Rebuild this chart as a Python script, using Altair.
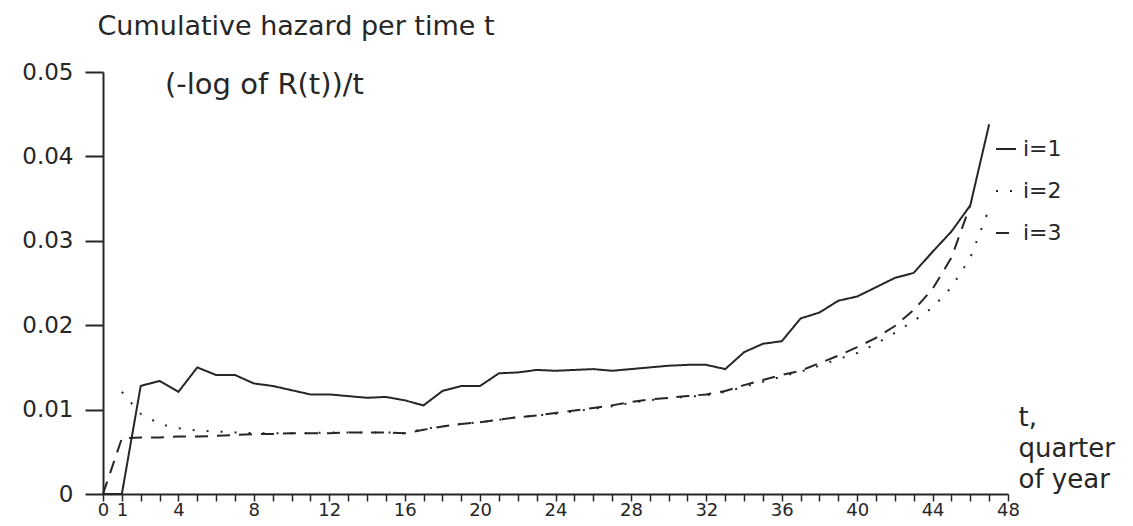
import altair as alt
import pandas as pd

# ---- data ----
t1 = list(range(0, 48))
h1 = [0.0, 0.0, 0.0128, 0.0134, 0.0121, 0.0150, 0.0141, 0.0141, 0.0131, 0.0128,
      0.0123, 0.0118, 0.0118, 0.0116, 0.0114, 0.0115, 0.0111, 0.0105, 0.0122, 0.0128,
      0.0128, 0.0143, 0.0144, 0.0147, 0.0146, 0.0147, 0.0148, 0.0146, 0.0148, 0.0150,
      0.0152, 0.0153, 0.0153, 0.0148, 0.0168, 0.0178, 0.0181, 0.0208, 0.0215, 0.0229,
      0.0234, 0.0245, 0.0256, 0.0262, 0.0287, 0.0311, 0.0342, 0.0438]

t2 = list(range(1, 48))
h2 = [0.0121, 0.0095, 0.0083, 0.0078, 0.0075, 0.0074, 0.0073, 0.0072, 0.0072,
      0.0072, 0.0072, 0.0073, 0.0073, 0.0073, 0.0073, 0.0072, 0.0077, 0.0080, 0.0083,
      0.0085, 0.0088, 0.0091, 0.0093, 0.0095, 0.0098, 0.0101, 0.0104, 0.0108, 0.0111,
      0.0114, 0.0115, 0.0117, 0.0121, 0.0127, 0.0133, 0.0139, 0.0145, 0.0152, 0.0160,
      0.0167, 0.0178, 0.0191, 0.0205, 0.0221, 0.0245, 0.0280, 0.0338]

t3 = list(range(0, 47))
h3 = [0.0, 0.0066, 0.0067, 0.0067, 0.0068, 0.0068, 0.0069, 0.0070, 0.0071, 0.0071,
      0.0072, 0.0072, 0.0072, 0.0073, 0.0073, 0.0073, 0.0072, 0.0076, 0.0080, 0.0083,
      0.0085, 0.0088, 0.0091, 0.0093, 0.0096, 0.0099, 0.0102, 0.0105, 0.0109, 0.0112,
      0.0114, 0.0116, 0.0118, 0.0122, 0.0129, 0.0135, 0.0141, 0.0146, 0.0155, 0.0164,
      0.0174, 0.0185, 0.0199, 0.0218, 0.0243, 0.0280, 0.0342]

series_names = ["i=1", "i=2", "i=3"]
x_label_values = [0, 1, 4, 8, 12, 16, 20, 24, 28, 32, 36, 40, 44, 48]
y_tick_values = [0, 0.01, 0.02, 0.03, 0.04, 0.05]

rows = []
for name, ts, hs in zip(series_names, [t1, t2, t3], [h1, h2, h3]):
    for t, h in zip(ts, hs):
        rows.append({"t": t, "h": h, "series": name})
df = pd.DataFrame(rows)

FONT = "DejaVu Sans"
INK = "#262626"

label_list = ",".join(str(v) for v in x_label_values)

lines = alt.Chart(df).mark_line(color=INK, strokeWidth=2, clip=False).encode(
    x=alt.X(
        "t:Q",
        scale=alt.Scale(domain=[0, 48], nice=False, zero=False),
        axis=alt.Axis(
            values=list(range(0, 49)),
            labelExpr=f"indexof([{label_list}], datum.value) >= 0 ? datum.label : ''",
            labelOverlap=False,
            labelFlush=False,
            labelFont=FONT,
            labelFontSize=18,
            labelColor=INK,
            labelPadding=0,
            tickSize=7,
            tickWidth=1.5,
            tickColor=INK,
            domainColor=INK,
            domainWidth=2,
            grid=False,
            title=["t,", "quarter", "of year"],
            titleAngle=0,
            titleAlign="left",
            titleBaseline="alphabetic",
            titleX=915,
            titleY=-69,
            titleLineHeight=31,
            titleFont=FONT,
            titleFontSize=26,
            titleFontWeight="normal",
            titleColor=INK,
        ),
    ),
    y=alt.Y(
        "h:Q",
        scale=alt.Scale(domain=[0, 0.05], nice=False),
        axis=alt.Axis(
            values=y_tick_values,
            labelExpr="datum.value == 0 ? '0' : format(datum.value, '.2f')",
            labelFont=FONT,
            labelFontSize=23,
            labelColor=INK,
            labelPadding=12,
            tickSize=18,
            tickWidth=2,
            tickColor=INK,
            domainColor=INK,
            domainWidth=2,
            grid=False,
            title="Cumulative hazard per time t",
            titleAngle=0,
            titleAlign="left",
            titleBaseline="alphabetic",
            titleX=-6,
            titleY=-38,
            titleFont=FONT,
            titleFontSize=27,
            titleFontWeight="normal",
            titleColor=INK,
        ),
    ),
    strokeDash=alt.StrokeDash(
        "series:N",
        scale=alt.Scale(domain=series_names, range=[[1, 0], [2, 12], [13, 9]]),
        legend=alt.Legend(
            title=None,
            orient="none",
            legendX=892,
            legendY=66,
            symbolType="stroke",
            symbolSize=400,
            symbolStrokeWidth=2,
            symbolStrokeColor=INK,
            labelFont=FONT,
            labelFontSize=22,
            labelColor=INK,
            labelOffset=6,
            rowPadding=20,
            padding=0,
        ),
    ),
)

subtitle_df = pd.DataFrame({"label": ["(-log of R(t))/t"]})
subtitle = alt.Chart(subtitle_df).mark_text(
    font=FONT, fontSize=29, color=INK, align="left", baseline="alphabetic"
).encode(
    x=alt.value(62),
    y=alt.value(22),
    text="label:N",
)

chart = alt.layer(lines, subtitle).properties(
    width=905,
    height=422,
    autosize=alt.AutoSizeParams(type="none"),
    padding={"left": 95, "top": 64, "right": 117, "bottom": 24},
    background="white",
).configure_view(stroke=None)

chart.save("out.html", embed_options={"renderer": "svg", "actions": False})
